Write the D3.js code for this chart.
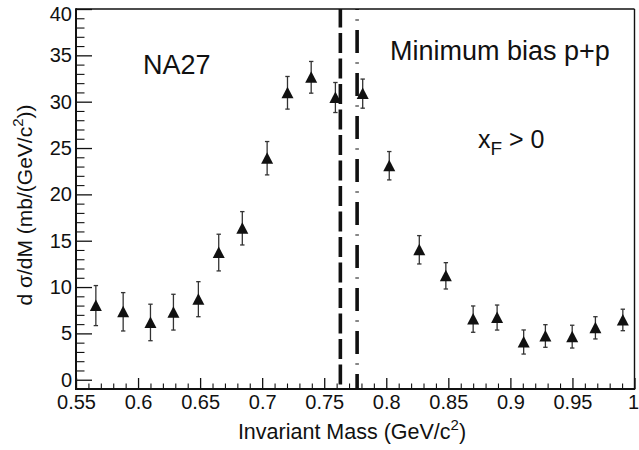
<!DOCTYPE html>
<html>
<head>
<meta charset="utf-8">
<script src="https://cdn.jsdelivr.net/npm/d3@7"></script>
<style>
  html, body { margin: 0; padding: 0; background: #fff; }
  svg { display: block; }
  text { font-family: "Liberation Sans", Arial, Helvetica, sans-serif; fill: #111; }
</style>
</head>
<body>
<svg id="chart" width="639" height="450"></svg>
<script>
// ---- data ----
const mass = [0.566, 0.588, 0.610, 0.6285, 0.6486, 0.665, 0.684, 0.704, 0.7204, 0.7395, 0.759,
              0.781, 0.8024, 0.8266, 0.848, 0.870, 0.8893, 0.9107, 0.9282, 0.9498, 0.9685, 0.9906];
const dsigma = [8.0, 7.33, 6.18, 7.29, 8.69, 13.72, 16.34, 23.9, 30.96, 32.63, 30.45,
                30.87, 23.09, 14.02, 11.21, 6.54, 6.71, 4.07, 4.72, 4.65, 5.6, 6.45];
const dsigmaErr = [2.16, 2.07, 1.97, 1.93, 1.89, 1.98, 1.8, 1.8, 1.76, 1.71, 1.62,
                   1.57, 1.53, 1.53, 1.42, 1.42, 1.35, 1.3, 1.22, 1.23, 1.2, 1.16];
const xTicks = [0.55, 0.6, 0.65, 0.7, 0.75, 0.8, 0.85, 0.9, 0.95, 1.0];
const xTickLabels = ["0.55", "0.6", "0.65", "0.7", "0.75", "0.8", "0.85", "0.9", "0.95", "1"];
const yTicks = [0, 5, 10, 15, 20, 25, 30, 35, 40];
const vLines = [0.763, 0.7765];   // dashed and dash-dotted reference lines
const xDomain = [0.55, 1.0];
const yDomain = [-1, 40];

// ---- layout ----
const svg = d3.select("#chart");
const L = 76, R = 634.5, T = 9, B = 389;
const x = d3.scaleLinear().domain(xDomain).range([L, R]);
const y = d3.scaleLinear().domain(yDomain).range([B, T]);

// minor ticks
const xMinor = d3.range(56, 100).map(v => v / 100).filter(v => !xTicks.some(t => Math.abs(t - v) < 1e-6));
const yMinor = d3.range(0, 40).filter(v => v % 5 !== 0);

// X axis (ticks pointing up, inside)
const xAxis = d3.axisBottom(x).tickValues(xTicks).tickSize(-11).tickSizeOuter(0)
  .tickFormat((d, i) => xTickLabels[i]);
const gx = svg.append("g").attr("transform", `translate(0,${B})`).call(xAxis);
gx.select(".domain").remove();
gx.selectAll(".tick line").attr("stroke", "#111").attr("stroke-width", 1.3);
gx.selectAll(".tick text").attr("y", 6).attr("dy", "0.71em")
  .attr("dx", d => d === 1 ? -1.5 : 0)
  .style("font-size", "20px").style("font-family", "Liberation Sans, Arial, sans-serif").attr("fill", "#111");
const gxm = svg.append("g").attr("transform", `translate(0,${B})`)
  .call(d3.axisBottom(x).tickValues(xMinor).tickSize(-5.5).tickSizeOuter(0).tickFormat(""));
gxm.select(".domain").remove();
gxm.selectAll(".tick line").attr("stroke", "#111").attr("stroke-width", 1.1);

// Y axis (ticks pointing right, inside)
const yAxis = d3.axisLeft(y).tickValues(yTicks).tickSize(-16).tickSizeOuter(0);
const gy = svg.append("g").attr("transform", `translate(${L},0)`).call(yAxis);
gy.select(".domain").remove();
gy.selectAll(".tick line").attr("stroke", "#111").attr("stroke-width", 1.3);
gy.selectAll(".tick text").attr("x", -4)
  .attr("dy", d => d === 40 ? "0.55em" : "0.32em")
  .style("font-size", "20px").style("font-family", "Liberation Sans, Arial, sans-serif").attr("fill", "#111");
const gym = svg.append("g").attr("transform", `translate(${L},0)`)
  .call(d3.axisLeft(y).tickValues(yMinor).tickSize(-8.5).tickSizeOuter(0).tickFormat(""));
gym.select(".domain").remove();
gym.selectAll(".tick line").attr("stroke", "#111").attr("stroke-width", 1.1);

// frame
svg.append("line").attr("x1", L).attr("x2", R).attr("y1", T).attr("y2", T).attr("stroke", "#111").attr("stroke-width", 1.4);
svg.append("line").attr("x1", R).attr("x2", R).attr("y1", T).attr("y2", B).attr("stroke", "#111").attr("stroke-width", 1.4);
svg.append("line").attr("x1", L).attr("x2", R + 0.7).attr("y1", B).attr("y2", B).attr("stroke", "#111").attr("stroke-width", 2);
svg.append("line").attr("x1", L).attr("x2", L).attr("y1", T - 0.7).attr("y2", B + 1).attr("stroke", "#111").attr("stroke-width", 2);

// vertical reference lines
svg.append("line").attr("x1", x(vLines[0])).attr("x2", x(vLines[0])).attr("y1", T).attr("y2", B)
  .attr("stroke", "#111").attr("stroke-width", 3.6)
  .attr("stroke-dasharray", "20,5.5").attr("stroke-dashoffset", 1.5);
svg.append("line").attr("x1", x(vLines[1])).attr("x2", x(vLines[1])).attr("y1", T).attr("y2", B)
  .attr("stroke", "#111").attr("stroke-width", 3.6)
  .attr("stroke-dasharray", "23,9.5,1,9.5").attr("stroke-dashoffset", 22);

// error bars
const pts = mass.map((m, i) => ({ m, v: dsigma[i], e: dsigmaErr[i] }));
const eb = svg.append("g").attr("stroke", "#333").attr("stroke-width", 1.3);
pts.forEach(p => {
  const cx = x(p.m);
  eb.append("line").attr("x1", cx).attr("x2", cx).attr("y1", y(p.v + p.e)).attr("y2", y(p.v - p.e));
  eb.append("line").attr("x1", cx - 2.2).attr("x2", cx + 2.2).attr("y1", y(p.v + p.e)).attr("y2", y(p.v + p.e));
  eb.append("line").attr("x1", cx - 2.2).attr("x2", cx + 2.2).attr("y1", y(p.v - p.e)).attr("y2", y(p.v - p.e));
});

// triangle markers
svg.append("g").selectAll("path").data(pts).join("path")
  .attr("d", p => {
    const cx = x(p.m), cy = y(p.v);
    return `M${cx},${cy - 6}L${cx + 6},${cy + 5.5}L${cx - 6},${cy + 5.5}Z`;
  })
  .attr("fill", "#111");

// texts
svg.append("text").attr("x", 143).attr("y", 74).style("font-size", "27px").text("NA27");
svg.append("text").attr("x", 390).attr("y", 60).style("font-size", "27px").text("Minimum bias p+p");
const xf = svg.append("text").attr("x", 478).attr("y", 148).style("font-size", "25px");
xf.append("tspan").text("x");
xf.append("tspan").attr("dy", 7).style("font-size", "19px").text("F");
xf.append("tspan").attr("dy", -7).text(" > 0");

// axis titles
const xt = svg.append("text").attr("x", 352).attr("y", 439).attr("text-anchor", "middle").style("font-size", "21.5px");
xt.append("tspan").text("Invariant Mass (GeV/c");
xt.append("tspan").attr("dy", -9).style("font-size", "15px").text("2");
xt.append("tspan").attr("dy", 9).text(")");

const yt = svg.append("text").attr("transform", "translate(32,205) rotate(-90)").attr("text-anchor", "middle").style("font-size", "21px");
yt.append("tspan").text("d σ/dM (mb/(GeV/c");
yt.append("tspan").attr("dy", -9).style("font-size", "15px").text("2");
yt.append("tspan").attr("dy", 9).text("))");
</script>
</body>
</html>
